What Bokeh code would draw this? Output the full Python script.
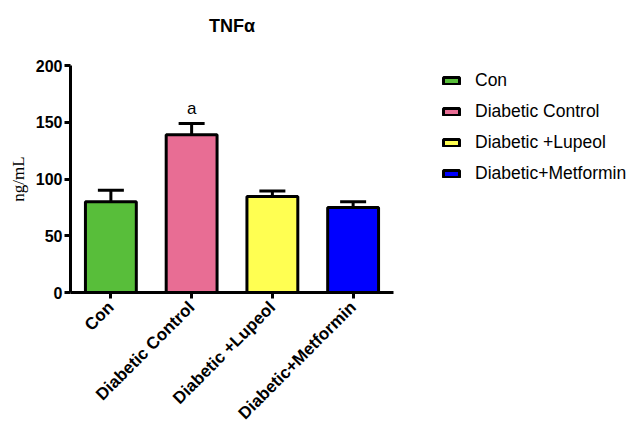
import math
from bokeh.plotting import figure
from bokeh.models import (ColumnDataSource, FactorRange, Range1d, FixedTicker, Whisker,
                          TeeHead, Legend, LegendItem, Title)
from bokeh.core.properties import value
from bokeh.embed import file_html
from bokeh.resources import INLINE

groups = ["Con", "Diabetic Control", "Diabetic +Lupeol", "Diabetic+Metformin"]
means = [80, 139, 84.5, 75]
errors = [10, 10, 5, 5]
letters = ["", "a", "", ""]
colors = ["#58BE3A", "#E86D94", "#FFFF52", "#0000FF"]
y_ticks = [0, 50, 100, 150, 200]

src = ColumnDataSource(dict(
    x=groups, top=means,
    upper=[m + e for m, e in zip(means, errors)],
    lower=[m - e for m, e in zip(means, errors)],
    letter=letters, color=colors,
))

p = figure(x_range=FactorRange(*groups, range_padding=0), y_range=Range1d(0, 200),
           frame_width=323, frame_height=227, output_backend="svg", toolbar_location=None,
           title_location=None,
           min_border_left=70, min_border_right=222, min_border_top=65, min_border_bottom=123)
p.outline_line_color = None
p.xgrid.visible = False
p.ygrid.visible = False

# spacer between frame and title, then the title itself (stacked outward)
p.add_layout(Title(text=" ", text_font_size="1px", standoff=15), "above")
p.add_layout(Title(text="TNFα", align="center", text_color="black",
                   text_font="Liberation Sans", text_font_style="bold",
                   text_font_size="18px", standoff=24), "above")

renderers = []
for i, g in enumerate(groups):
    view_src = ColumnDataSource(dict(x=[g], top=[means[i]]))
    r = p.vbar(x="x", top="top", bottom=0, width=0.63, source=view_src,
               fill_color=colors[i], line_color="black", line_width=3)
    renderers.append(r)

wh = Whisker(base="x", upper="upper", lower="lower", source=src,
             line_color="black", line_width=3,
             upper_head=TeeHead(size=26, line_width=3, line_color="black"),
             lower_head=TeeHead(size=26, line_width=3, line_color="black"))
p.add_layout(wh)

p.text(x="x", y="upper", text="letter", source=src, y_offset=-5,
       text_align="center", text_baseline="bottom",
       text_font=value("Liberation Sans"), text_font_size="17px", text_color="black")

for ax in (p.xaxis[0], p.yaxis[0]):
    ax.axis_line_width = 3
    ax.axis_line_color = "black"
    ax.major_tick_line_width = 3
    ax.major_tick_line_color = "black"
    ax.major_tick_in = 0
    ax.major_tick_out = 6
    ax.minor_tick_line_color = None
    ax.major_label_text_font = "Liberation Sans"
    ax.major_label_text_font_style = "bold"
    ax.major_label_text_font_size = "16px"
    ax.major_label_text_color = "black"

p.yaxis[0].ticker = FixedTicker(ticks=y_ticks)
p.yaxis[0].major_label_standoff = 2
p.yaxis[0].axis_label = "ng/mL"
p.yaxis[0].axis_label_text_font = "Liberation Serif"
p.yaxis[0].axis_label_text_font_style = "normal"
p.yaxis[0].axis_label_text_font_size = "17px"
p.yaxis[0].axis_label_text_color = "black"
p.yaxis[0].axis_label_standoff = 5

p.xaxis[0].major_label_orientation = math.pi / 4
p.xaxis[0].major_label_standoff = 6
p.xaxis[0].major_label_text_font_size = "17px"

legend = Legend(items=[LegendItem(label=g, renderers=[r]) for g, r in zip(groups, renderers)],
                location=(48, 108), glyph_width=20, glyph_height=9, label_standoff=14,
                label_height=20, spacing=10, padding=0, margin=0,
                border_line_color=None, background_fill_alpha=0,
                label_text_font="Liberation Sans", label_text_font_size="17.5px",
                label_text_color="black")
p.add_layout(legend, "right")

open("out.html", "w").write(file_html(p, INLINE))
